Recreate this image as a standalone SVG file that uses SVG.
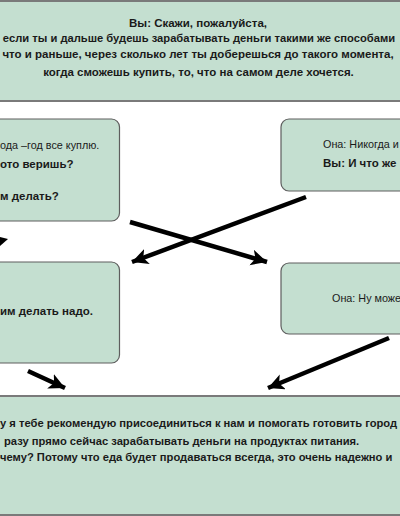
<svg xmlns="http://www.w3.org/2000/svg" width="400" height="516" viewBox="0 0 400 516">
<defs>
<style>
.box{fill:#c4dfd0;stroke:#5e5e5e;stroke-width:1.2}
.wide{fill:#c4dfd0;stroke:#7a7a7a;stroke-width:2}
text{font-family:"Liberation Sans",Arial,sans-serif;font-size:10.8px;fill:#1a1a1a}
.b{font-weight:bold;font-size:11.5px}
.s{font-size:11.2px}
.c{text-anchor:middle}
.arrow{stroke:#000;stroke-width:4.5;fill:none;marker-end:url(#ah)}
</style>
<marker id="ah" markerUnits="userSpaceOnUse" markerWidth="20" markerHeight="20" refX="16" refY="8" orient="auto">
<path d="M0,0 L16,8 L0,16 L4,8 Z" fill="#000"/>
</marker>
</defs>
<rect width="400" height="516" fill="#fff"/>
<g id="top">
<rect class="wide" x="-10" y="1" width="420" height="100"/>
<text class="b c" x="198" y="26.5">Вы: Скажи, пожалуйста,</text>
<text class="b c s" x="199" y="42">если ты и дальше будешь зарабатывать деньги такими же способами</text>
<text class="b c" x="198" y="57.5">что и раньше, через сколько лет ты доберешься до такого момента,</text>
<text class="b c" x="198.5" y="75.5">когда сможешь купить, то, что на самом деле хочется.</text>
</g>
<g id="left1">
<rect class="box" x="-20" y="119" width="139.5" height="102" rx="8"/>
<text x="0" y="149">ода –год все куплю.</text>
<text class="b" x="0" y="168">ото веришь?</text>
<text class="b" x="0" y="200">м делать?</text>
</g>
<g id="right1">
<rect class="box" x="281" y="119" width="140" height="72" rx="8"/>
<text x="323" y="148">Она: Никогда и</text>
<text class="b" x="323" y="167">Вы: И что же</text>
</g>
<g id="left2">
<rect class="box" x="-20" y="262" width="139.5" height="101" rx="8"/>
<text class="b" x="0" y="315">им делать надо.</text>
</g>
<g id="right2">
<rect class="box" x="281" y="263" width="140" height="71" rx="8"/>
<text x="332" y="302">Она: Ну може</text>
</g>
<g id="bottom">
<rect class="wide" x="-10" y="396" width="420" height="119"/>
<text class="b s" x="0" y="427">у я тебе рекомендую присоединиться к нам и помогать готовить город</text>
<text class="b s" x="4" y="445">разу прямо сейчас зарабатывать деньги на продуктах питания.</text>
<text class="b s" x="0" y="461">чему? Потому что еда будет продаваться всегда, это очень надежно и</text>
</g>
<g id="connectors">
<line class="arrow" x1="130" y1="222" x2="267" y2="262"/>
<line class="arrow" x1="306" y1="197" x2="132" y2="262"/>
<line class="arrow" x1="28" y1="371" x2="65" y2="388"/>
<line class="arrow" x1="389" y1="338" x2="268" y2="388"/>
<path d="M-4,236 L8,239 L0,246 Z" fill="#000"/>
</g>
</svg>
